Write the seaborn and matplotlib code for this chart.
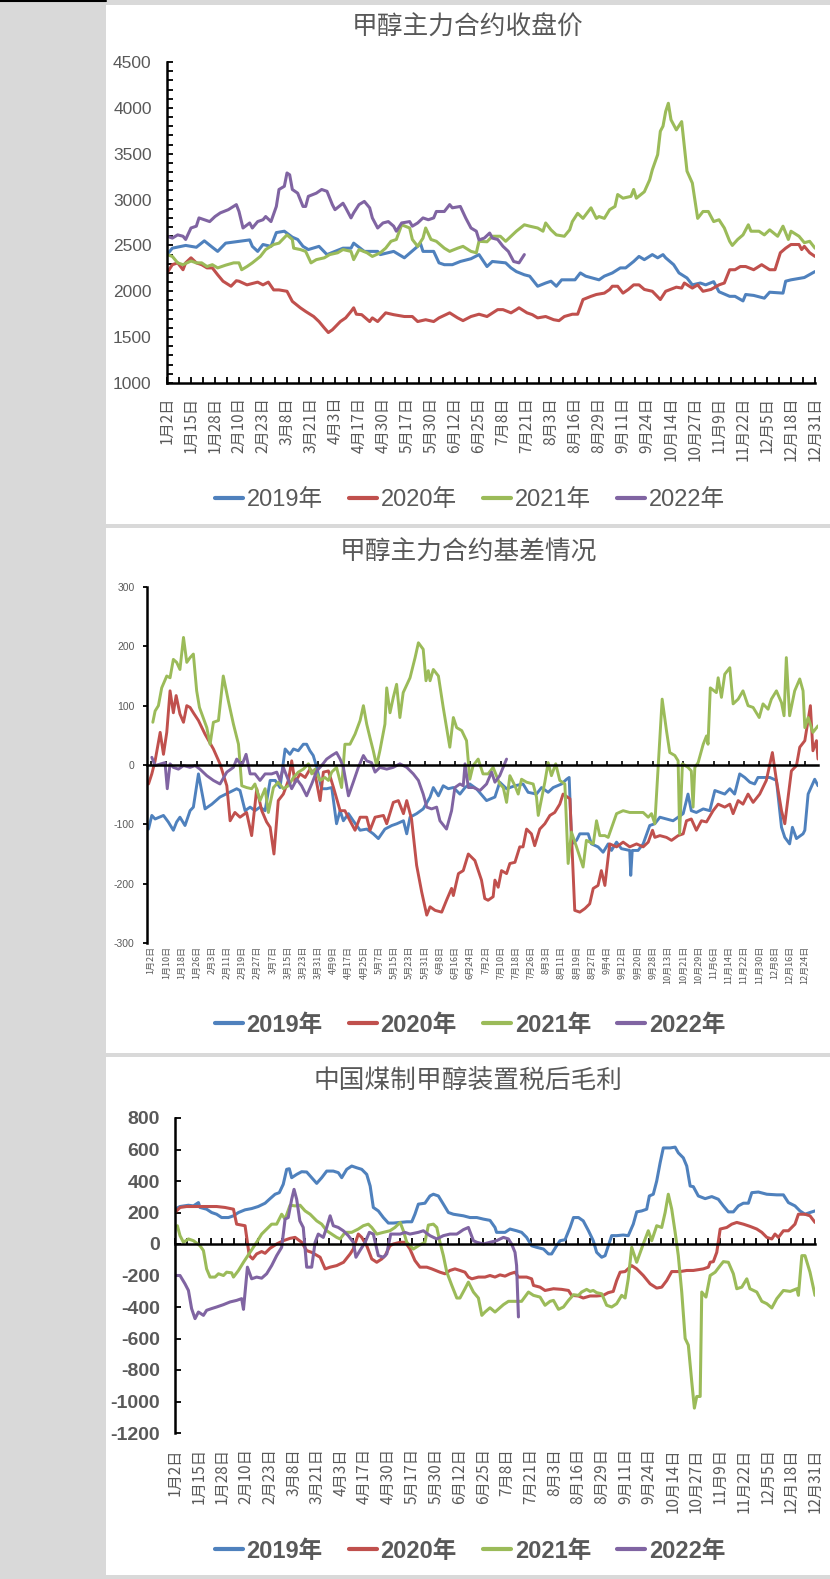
import matplotlib
matplotlib.use('Agg')
import matplotlib.pyplot as plt
import seaborn as sns
from matplotlib.patches import Rectangle
from matplotlib.lines import Line2D
from matplotlib.ticker import MultipleLocator, FixedLocator
from matplotlib.font_manager import FontProperties

# ---------------- data ----------------
SERIES = ['2019年', '2020年', '2021年', '2022年']
COLORS = ['#4F81BD', '#C0504D', '#9BBB59', '#8064A2']

TITLE1 = '甲醇主力合约收盘价'
TITLE2 = '甲醇主力合约基差情况'
TITLE3 = '中国煤制甲醇装置税后毛利'

XLAB_A = ['1月2日', '1月15日', '1月28日', '2月10日', '2月23日', '3月8日', '3月21日', '4月3日',
          '4月17日', '4月30日', '5月17日', '5月30日', '6月12日', '6月25日', '7月8日', '7月21日',
          '8月3日', '8月16日', '8月29日', '9月11日', '9月24日', '10月14日', '10月27日', '11月9日',
          '11月22日', '12月5日', '12月18日', '12月31日']
XLAB_B = ['1月2日', '1月10日', '1月18日', '1月26日', '2月3日', '2月11日', '2月19日', '2月27日',
          '3月7日', '3月15日', '3月23日', '3月31日', '4月9日', '4月17日', '4月25日', '5月7日',
          '5月15日', '5月23日', '5月31日', '6月8日', '6月16日', '6月24日', '7月2日', '7月10日',
          '7月18日', '7月26日', '8月3日', '8月11日', '8月19日', '8月27日', '9月4日', '9月12日',
          '9月20日', '9月28日', '10月13日', '10月21日', '10月29日', '11月6日', '11月14日',
          '11月22日', '11月30日', '12月8日', '12月16日', '12月24日']

# (trading-day index, value)
P1_2019 = [(0,2400),(2,2470),(7,2500),(11,2480),(14,2550),(17,2480),(19,2435),(22,2525),(31,2560),(32,2490),(34,2435),(36,2510),(39,2490),(41,2640),(44,2655),(47,2590),(49,2565),(51,2490),(53,2455),(57,2490),(60,2400),(66,2470),(69,2470),(70,2525),(74,2435),(79,2435),(80,2400),(85,2435),(89,2365),(94,2490),(95,2525),(96,2435),(100,2435),(102,2310),(104,2290),(107,2290),(110,2325),(114,2355),(117,2400),(120,2270),(122,2325),(127,2310),(129,2255),(131,2215),(134,2180),(136,2165),(139,2055),(142,2090),(144,2110),(146,2055),(148,2125),(153,2125),(155,2200),(157,2165),(162,2125),(164,2165),(167,2200),(170,2255),(172,2255),(175,2325),(177,2380),(179,2345),(182,2400),(184,2365),(186,2400),(187,2365),(190,2290),(192,2200),(195,2145),(197,2070),(200,2090),(202,2070),(205,2105),(207,1995),(211,1945),(213,1945),(216,1895),(217,1965),(220,1955),(224,1925),(226,1990),(231,1980),(232,2110),(234,2125),(239,2150),(243,2215)]
P1_2020 = [(0,2200),(2,2290),(4,2310),(6,2235),(7,2310),(9,2365),(11,2310),(13,2290),(15,2255),(17,2255),(19,2180),(21,2110),(24,2055),(26,2115),(27,2110),(30,2070),(34,2100),(36,2070),(38,2100),(40,2015),(42,2015),(45,2000),(47,1890),(50,1820),(52,1780),(55,1725),(57,1670),(59,1600),(60.5,1550),(62,1580),(65,1670),(67,1710),(69,1780),(70,1820),(71,1750),(73,1745),(76,1670),(77,1710),(79,1670),(82,1765),(85,1745),(89,1725),(92,1725),(94,1670),(97,1690),(100,1670),(102,1710),(106,1765),(109,1710),(111,1680),(114,1725),(117,1750),(120,1725),(124,1800),(126,1800),(129,1765),(131,1800),(132,1820),(135,1765),(137,1745),(139,1710),(142,1725),(145,1690),(147,1680),(149,1725),(152,1750),(154,1750),(156,1910),(159,1945),(161,1965),(164,1980),(166,2020),(167,2055),(169,2055),(171,1980),(173,2020),(175,2070),(177,2070),(179,2020),(182,2000),(185,1910),(187,2000),(191,2045),(193,2035),(194,2090),(197,2035),(199,2070),(201,2000),(204,2020),(207,2070),(209,2090),(211,2235),(213,2235),(215,2270),(217,2270),(220,2235),(223,2290),(226,2235),(228,2235),(230,2420),(232,2470),(234,2510),(237,2510),(238,2455),(239,2490),(241,2420),(243,2380)]
P1_2021 = [(0,2400),(2,2380),(4,2310),(6,2290),(9,2330),(11,2310),(13,2310),(15,2270),(17,2290),(19,2255),(22,2285),(25,2310),(27,2310),(28,2235),(30,2270),(32,2310),(35,2380),(37,2455),(40,2510),(42,2525),(45,2615),(47,2565),(47.5,2470),(50,2455),(52,2435),(54,2310),(56,2345),(59,2365),(61,2400),(64,2420),(66,2455),(69,2435),(70,2345),(72,2455),(75,2420),(77,2380),(80,2420),(82,2470),(84,2545),(86,2565),(88,2725),(91,2690),(92,2565),(94,2490),(96,2580),(97,2690),(99,2565),(101,2545),(104,2470),(106,2435),(109,2470),(111,2490),(114,2435),(116,2420),(117,2545),(120,2540),(122,2600),(125,2600),(127,2545),(129,2600),(131,2655),(134,2725),(136,2710),(139,2690),(141,2655),(142,2745),(144,2670),(146,2615),(149,2600),(151,2670),(152,2760),(154,2850),(156,2795),(159,2910),(161,2795),(162,2815),(164,2795),(166,2890),(168,2925),(169,3055),(171,3015),(174,3035),(175,3110),(176,3015),(179,3085),(181,3215),(182,3325),(184,3490),(185,3745),(186,3800),(187,3960),(188,4050),(189,3870),(191,3760),(193,3850),(195,3310),(197,3180),(199,2795),(201,2870),(203,2870),(205,2760),(207,2780),(209,2690),(211,2545),(212,2500),(214,2565),(216,2615),(218,2725),(219,2655),(222,2655),(224,2615),(226,2670),(229,2600),(231,2710),(233,2565),(234,2655),(237,2600),(239,2530),(241,2545),(243,2470)]
P1_2022 = [(0,2600),(2,2580),(4,2615),(6,2600),(7,2565),(9,2690),(11,2710),(12,2800),(14,2780),(16,2760),(18,2815),(20,2855),(23,2890),(26,2945),(27,2870),(28.5,2690),(31,2745),(32,2690),(34,2760),(36,2780),(37,2815),(39,2760),(41,2925),(42,3110),(44,3145),(45,3290),(46,3270),(47,3110),(49,3070),(51,2925),(52,2925),(53,3035),(56,3070),(58,3110),(60,3090),(62,2945),(63,2890),(66,2960),(67,2910),(69,2800),(70,2855),(72,2945),(74,2980),(76,2910),(77,2800),(79,2690),(81,2745),(83,2760),(85,2710),(86,2655),(88,2745),(91,2760),(92,2710),(94,2745),(96,2800),(98,2780),(100,2800),(101,2870),(104,2870),(106,2945),(107,2910),(110,2925),(112,2800),(114,2690),(116,2655),(117,2560),(119,2580),(121,2635),(122,2580),(124,2565),(126,2490),(128,2435),(130,2325),(132,2310),(134,2400)]

P2_2019 = [(-1,-108),(0.3,-85),(1.6,-91),(4.9,-85),(6.8,-96),(8.8,-110),(10.1,-96),(11.4,-88),(13.4,-102),(15.4,-77),(16.7,-71),(18.7,-15),(21.3,-74),(24,-66),(27.2,-54),(33.8,-40),(35.1,-43),(37.1,-77),(39.1,-71),(41,-77),(43,-71),(45,-77),(47,-26),(49,-26),(50.9,-38),(52.9,27),(54.8,18),(56.2,27),(58.1,24),(60.1,35),(61.4,35),(62.7,24),(64,16),(65.4,-4),(67.3,-40),(69.3,-40),(71.3,-38),(73.2,-99),(74.6,-77),(75.9,-94),(77.9,-82),(79.8,-94),(82.5,-110),(85.1,-108),(87.7,-116),(89.7,-124),(92.3,-108),(95,-102),(97,-99),(99.6,-94),(100.9,-116),(102.2,-88),(104.8,-82),(107.4,-74),(110.1,-54),(111.4,-38),(113.4,-52),(115.3,-35),(117.3,-40),(119.3,-38),(121.9,-49),(123.9,-38),(125.8,-32),(128.4,-40),(132.4,-60),(135.7,-54),(137.6,-29),(140.3,-40),(143.6,-35),(146.8,-32),(148.8,-46),(152.1,-49),(154.1,-38),(156.7,-46),(158.7,-38),(162,-32),(164,-24),(165,-21),(166,-133),(167.9,-127),(169.2,-116),(172.5,-116),(173.8,-133),(176.4,-138),(178.4,-147),(180.4,-133),(181.7,-144),(183.7,-130),(185.6,-141),(188.9,-144),(189.3,-186),(189.9,-144),(192.2,-144),(194.2,-133),(196.8,-102),(198.8,-99),(200.8,-88),(203.4,-91),(206,-94),(208,-88),(210,-82),(211.9,-49),(213.2,-77),(215.2,-80),(217.9,-74),(220.5,-77),(222.5,-43),(224.4,-46),(226.4,-49),(228.4,-40),(230.3,-49),(232.3,-15),(234.3,-21),(236.3,-29),(238.2,-32),(239.5,-21),(241.5,-21),(244.2,-21),(246.8,-26),(248.8,-105),(250.1,-122),(252,-133),(253.1,-105),(254.7,-124),(257.3,-116),(258,-110),(259.3,-49),(261.9,-24),(263.2,-35)]
P2_2020 = [(-1,-32),(0.3,-15),(1.6,7),(3.6,55),(4.9,18),(6.2,55),(7.5,125),(8.8,88),(9.9,117),(11.4,86),(12.8,72),(14.1,100),(15.4,97),(16.7,88),(18.7,75),(21.3,52),(24.6,27),(27.2,2),(29.9,-35),(31.2,-94),(33.1,-80),(35.1,-88),(37.7,-80),(39.7,-119),(41.7,-40),(43.7,-77),(45.6,-96),(47,-105),(48.5,-150),(50.2,-60),(52.2,-49),(54.2,-26),(55.5,7),(56.8,-29),(58.8,-15),(60.8,-21),(62.7,-7),(64.7,-15),(66.7,-60),(68,-12),(70,-10),(72,-38),(74.6,-77),(76.5,-77),(78.5,-94),(80.5,-110),(82.5,-88),(85.1,-88),(86.4,-110),(88.4,-88),(91.7,-85),(93,-99),(95.6,-63),(97.6,-60),(99.6,-82),(100.9,-60),(102.8,-91),(104.8,-169),(106.8,-214),(108.8,-253),(110.1,-239),(112.1,-245),(114.7,-248),(116.6,-228),(118.6,-208),(119.3,-220),(121.3,-183),(123.2,-178),(125.2,-150),(127.8,-161),(130.4,-194),(131.7,-225),(133,-228),(135,-222),(135.7,-194),(137,-206),(138.3,-178),(140.3,-183),(141.6,-166),(143.6,-164),(145.5,-138),(146.8,-138),(148.2,-108),(150.1,-116),(151.4,-136),(153.4,-108),(155.4,-99),(157.4,-85),(159.3,-80),(161.3,-66),(162.6,-49),(165.3,-57),(165.9,-116),(167.2,-245),(169.2,-248),(171.2,-242),(173.1,-234),(174.5,-208),(176.4,-203),(177.7,-178),(179.1,-203),(181,-133),(183.7,-138),(186.3,-130),(188.9,-138),(191.6,-133),(194.2,-138),(196.2,-130),(197.9,-110),(198.8,-122),(200.8,-119),(203.4,-122),(205.4,-127),(208,-119),(210,-116),(211.3,-94),(213.2,-91),(215.2,-110),(217.2,-94),(219.2,-96),(221.8,-77),(223.8,-66),(226.4,-71),(228.4,-66),(229.7,-82),(231.7,-60),(233.6,-66),(235.6,-49),(237.6,-63),(240.2,-49),(242.8,-26),(245.2,21),(246.8,-26),(248.8,-77),(250.1,-99),(251.4,-54),(252.7,-10),(254.7,-1),(256,30),(258,41),(260.2,100),(261.2,24),(262.6,41),(263.2,10)]
P2_2021 = [(0.7,72),(1.6,91),(2.9,100),(4.2,130),(6.2,150),(7.5,147),(8.8,178),(10.1,173),(11.4,161),(12.8,215),(14.1,173),(15.4,181),(16.7,187),(18,125),(19.1,97),(22,63),(23.3,35),(24.6,72),(26.6,75),(28.5,150),(30.5,108),(32.5,69),(34.5,35),(35.8,-35),(37.7,-38),(39.7,-40),(41,-32),(43,-60),(45,-40),(46.3,-80),(48.3,-38),(50.2,-29),(52.2,-40),(54.2,-35),(56.2,-21),(58.1,-12),(60.1,-7),(62.1,2),(63.4,-15),(64.7,-7),(66.7,-26),(68.6,-21),(70,-26),(71.3,-12),(73.2,-4),(75.2,-38),(76.5,35),(78.5,35),(80.5,52),(82.5,75),(83.8,100),(85.1,69),(86.4,46),(87.7,24),(89,-1),(90.3,24),(92.3,69),(93,130),(94.3,88),(95.6,114),(96.9,136),(98.2,80),(99.5,122),(102.2,147),(104.2,181),(105.5,206),(107.4,195),(108.5,142),(109.4,159),(110.1,142),(111.4,161),(113.4,150),(115.3,97),(117.9,30),(119.3,80),(120.6,63),(122.6,58),(124.5,41),(125.8,-24),(127.1,-1),(129.1,10),(131,-15),(133,-15),(135,-4),(137.6,-32),(139,-38),(140.3,-63),(141.6,-18),(143.6,-35),(144.9,-49),(146.2,-24),(148.2,-29),(150.8,-32),(152.1,-54),(152.8,-85),(154.1,-57),(155.4,-29),(156.7,4),(158,-18),(159.7,2),(161.3,-26),(163.3,-32),(164.6,-166),(165.9,-113),(167.9,-138),(170.5,-172),(171.8,-127),(174.5,-133),(175.8,-94),(177.1,-119),(179.1,-119),(180.4,-122),(183.7,-82),(186.3,-77),(188.9,-80),(191.6,-80),(194.2,-80),(196.2,-88),(197.5,-82),(198.8,-99),(200.1,-4),(201.7,111),(203.4,58),(204.7,21),(206.7,16),(208,7),(208.6,-116),(209.7,2),(211.9,-4),(213.2,-10),(213.9,-71),(214.6,-4),(215.9,4),(217.9,35),(219.2,49),(219.8,35),(220.7,130),(223.1,122),(223.8,147),(225.1,114),(226.4,153),(228.4,164),(229.7,103),(231.7,111),(233.6,125),(235.6,100),(237.6,97),(240,80),(241.5,103),(243.5,94),(244.8,111),(246.8,125),(248.8,105),(249.8,83),(250.7,181),(252,83),(254,125),(256,145),(257.3,125),(258,63),(259.3,80),(261.2,55),(263.2,66)]
P2_2022 = [(0.3,13),(1.6,-1),(5.5,4),(6.4,-40),(7.5,2),(8.8,-4),(10.8,-7),(12.8,-1),(15.4,-4),(17.4,-1),(19.3,-7),(22,-18),(24.6,-26),(27.2,-32),(29.9,-12),(32.5,-4),(33.8,10),(35.8,-1),(37.5,18),(39.1,-15),(41,-15),(43,-26),(45,-15),(47.6,-15),(49.6,-12),(50.9,-26),(52.2,-4),(55.5,-40),(57.5,-24),(59.4,-35),(61.4,-52),(63.4,-32),(65.4,-10),(67.3,-1),(69.3,10),(71.3,16),(73.2,21),(74.6,10),(75.9,-4),(77.9,-52),(79.8,-29),(81.8,-4),(83.8,16),(85.1,7),(87,4),(88.4,-12),(90.3,-4),(93,-7),(95.6,-4),(98.2,2),(100.9,-4),(103.5,-15),(105.5,-26),(107.4,-49),(108.8,-71),(110.7,-74),(112.7,-71),(114,-94),(116.6,-108),(118.6,-77),(119.9,-38),(121.9,-32),(123.2,-35),(123.9,2),(125.2,-38),(127.2,-38),(129.8,-43),(132.4,-32),(134.4,-12),(135.7,-29),(137.6,-18),(140.3,10)]

P3_2019 = [(0,221),(1.9,238),(5.1,246),(7,242),(8.9,263),(9.5,232),(12,221),(13.9,200),(15.8,189),(17.7,168),(20.3,168),(22.2,179),(24.1,200),(26.6,217),(29.1,225),(31.6,238),(34.2,259),(36.1,288),(38,316),(39.6,326),(41.1,379),(42.4,474),(43.4,478),(44.3,421),(46.2,442),(48.1,459),(50,457),(51.9,421),(53.8,385),(55.7,421),(57.6,463),(60.1,463),(62,453),(63.3,421),(65.2,474),(67.1,495),(69,484),(70.9,474),(72.8,442),(74.1,368),(75.3,232),(77.2,210),(79.1,168),(81,133),(82.9,133),(85.5,137),(88,141),(89.9,141),(91.1,189),(92.4,253),(94.9,259),(96.8,305),(98.1,316),(100,305),(101.9,253),(103.8,200),(105.7,189),(109.5,179),(112,168),(114.6,168),(117.1,158),(119.6,150),(121.5,105),(122.1,74),(125.3,74),(127.2,95),(129.7,84),(131.6,74),(133.5,42),(135.4,-11),(137.3,-21),(139.9,-32),(141.8,-63),(143,-63),(144.9,-11),(146.2,21),(148.1,27),(150,105),(151.3,168),(153.2,168),(155,147),(157,84),(158.8,21),(160.1,-53),(162,-84),(163.3,-74),(165.8,53),(167.7,53),(170.2,57),(172.1,53),(174,126),(175.3,204),(177.2,210),(179.1,221),(180.1,305),(181.6,316),(182.9,400),(184.2,516),(185.4,610),(188,610),(189.9,615),(191.1,579),(193,547),(194.3,495),(195.6,368),(196.8,364),(198.7,305),(201.3,288),(203.8,301),(206.3,284),(208.2,242),(210.1,204),(212,204),(213.9,242),(215.8,259),(217.7,259),(219,326),(221.5,330),(224.7,316),(228.5,312),(231,312),(232.9,263),(235.4,242),(237.3,210),(239.2,189),(241.1,200),(243,210)]
P3_2020 = [(0,200),(1.9,232),(4.4,238),(12,238),(15.8,238),(19,232),(22.2,221),(23.4,126),(25.3,120),(26.6,116),(28.2,-74),(29.5,-95),(31,-63),(32.9,-48),(34.2,-59),(36.1,-27),(38.6,0),(41.1,21),(43.7,36),(45.6,42),(48.1,11),(50,-42),(51.9,-53),(55.1,-84),(57,-158),(58.9,-147),(61.4,-137),(64,-116),(66.5,-63),(67.7,-32),(69.6,63),(70.9,42),(72.8,-11),(74.7,-95),(76.6,-116),(78.5,-95),(79.8,-74),(81.6,-11),(82.9,0),(85.5,11),(87.5,11),(89.2,-32),(91.1,-105),(93,-147),(95.6,-147),(97.5,-158),(100.6,-179),(102.5,-189),(104.4,-168),(106.3,-158),(108.2,-168),(110.1,-179),(111.4,-210),(112.7,-221),(115.2,-210),(117.7,-210),(119.6,-200),(121.5,-210),(123.4,-196),(125.3,-204),(127.2,-189),(129.1,-179),(130.4,-210),(133.5,-210),(135.4,-221),(136.1,-263),(138.6,-274),(140.5,-295),(143.7,-284),(146.8,-288),(149.4,-295),(150.6,-326),(153.2,-330),(155,-343),(157.6,-330),(160.1,-330),(162.6,-326),(164.5,-309),(166.4,-301),(167.7,-232),(169,-179),(170.9,-175),(173.4,-137),(175.3,-158),(177.8,-200),(180.4,-253),(182.9,-280),(184.8,-274),(186.7,-232),(188.6,-175),(191.8,-175),(194.3,-168),(196.8,-168),(200.6,-158),(202.5,-147),(203.2,-116),(204.4,-112),(205.7,-53),(207,95),(209.5,105),(211.4,126),(213.3,137),(215.8,126),(218.3,112),(220.9,95),(222.8,74),(224.7,42),(226.6,32),(227.8,63),(229.1,42),(231,84),(232.9,84),(235.4,126),(236.7,189),(239.2,189),(241.1,179),(243,137)]
P3_2021 = [(0.9,116),(1.9,53),(3.2,11),(5.1,32),(7,21),(9.5,-11),(10.8,-42),(12,-158),(13.3,-210),(15.2,-210),(16.5,-189),(18.4,-200),(19.6,-179),(21.5,-183),(22.2,-210),(24.1,-168),(26,-116),(28.5,-53),(31,11),(32.9,63),(35.4,105),(36.7,126),(38.6,126),(40.5,189),(41.8,158),(43.7,246),(45.6,242),(47.5,246),(49.4,210),(51.3,189),(53.8,147),(55.7,126),(57.6,84),(59.5,63),(61.4,42),(62.7,32),(64.6,74),(67.1,74),(69.6,95),(71.5,116),(73.4,126),(74.7,105),(76.6,63),(79.1,74),(81.6,84),(83.5,105),(85.5,137),(86.7,84),(88,11),(90.5,-32),(92.4,-11),(94.9,11),(96.2,120),(98.1,126),(99.4,105),(100.6,11),(101.9,-74),(103.2,-179),(105.1,-263),(107,-343),(108.2,-343),(110.1,-284),(111.4,-242),(113.3,-305),(115.2,-343),(116.5,-453),(117.7,-432),(119.6,-405),(121.5,-432),(124.7,-385),(126.6,-364),(128.5,-364),(131.6,-364),(134.2,-305),(136.1,-326),(138.6,-337),(140.5,-389),(142.4,-364),(143.7,-358),(145.6,-415),(147.5,-400),(149.4,-358),(151.3,-322),(153.2,-326),(154.4,-305),(156.3,-288),(157.6,-301),(158.8,-295),(160.1,-309),(162,-316),(163.9,-389),(165.8,-400),(167.7,-379),(169.6,-326),(170.9,-343),(172.1,-221),(173.4,-21),(175.3,-116),(177.8,0),(179.7,84),(181,21),(182.9,116),(184.8,105),(186.1,200),(187.3,316),(188.6,221),(189.9,74),(191.1,-74),(192.4,-305),(193.7,-600),(194.9,-642),(196.2,-874),(197.2,-1042),(198.1,-968),(199.4,-968),(200,-305),(201.6,-337),(203.2,-200),(205.1,-179),(207,-137),(208.2,-112),(210.1,-116),(212,-189),(213.3,-284),(215.2,-274),(217.1,-221),(218.3,-284),(220.9,-305),(222.8,-364),(224.7,-379),(226.6,-406),(228.5,-347),(231,-295),(233.6,-301),(236.1,-284),(236.7,-326),(238,-74),(239.2,-74),(241.1,-179),(243,-326)]
P3_2022 = [(0,-200),(1.9,-200),(3.8,-253),(5.1,-295),(6.3,-410),(7.6,-474),(8.9,-432),(10.8,-453),(12,-421),(13.9,-410),(15.8,-400),(18.4,-385),(20.9,-368),(23.4,-358),(25.3,-347),(26,-415),(27.5,-147),(29.1,-221),(31,-210),(32.9,-217),(34.8,-189),(36.7,-137),(38.6,-74),(40.5,-21),(41.8,158),(43,168),(44.3,284),(45.2,347),(46.2,284),(47.4,147),(48.7,105),(50,-147),(51.9,-147),(53.2,11),(54.4,63),(56.3,42),(57.6,105),(58.9,179),(60.1,116),(62,105),(63.9,84),(65.8,53),(67.7,11),(68.7,-84),(70.2,-42),(72.2,11),(73.8,74),(75.3,63),(77.2,-74),(79.1,-84),(80.4,-63),(81.9,63),(85.5,63),(87.3,74),(89.2,63),(92.4,74),(94.3,84),(96.8,53),(99.4,32),(101.9,53),(104.4,63),(107,63),(109.5,91),(111.4,105),(113.3,21),(114.6,11),(117.1,0),(119.6,11),(122.1,21),(124.7,42),(126.6,32),(127.8,0),(129.1,-53),(129.7,-137),(130.4,-463)]

# ---------------- style ----------------
sns.set_theme(style='white')
CJK = 'Noto Sans CJK SC'
NUM = 'Liberation Sans'
plt.rcParams['font.family'] = [NUM, CJK, 'DejaVu Sans']
plt.rcParams['axes.unicode_minus'] = False
GRAY = '#595959'

W, H = 830, 1579
fig = plt.figure(figsize=(W / 100, H / 100), dpi=100)
fig.patch.set_facecolor('#d9d9d9')


def box(x0, y0, x1, y1):
    return [x0 / W, 1 - y1 / H, (x1 - x0) / W, (y1 - y0) / H]


for (x0, y0, x1, y1) in [(106, 5, 830, 524), (106, 528, 830, 1053), (106, 1057, 830, 1575)]:
    fig.add_artist(Rectangle((x0 / W, 1 - y1 / H), (x1 - x0) / W, (y1 - y0) / H,
                             transform=fig.transFigure, facecolor='white',
                             edgecolor='none', zorder=-10))
fig.add_artist(Line2D([0, 106 / W], [1 - 1 / H, 1 - 1 / H], transform=fig.transFigure,
                      color='black', lw=1.5))


def draw(ax, sets, lw):
    for name, col, pts in zip(SERIES, COLORS, sets):
        xs = [p[0] for p in pts]
        ys = [p[1] for p in pts]
        sns.lineplot(x=xs, y=ys, ax=ax, color=col, linewidth=lw,
                     estimator=None, sort=False, legend=False)


def legend(ypix, bold):
    handles = [Line2D([], [], color=c, lw=3) for c in COLORS]
    prop = FontProperties(family=[NUM, CJK], size=17, weight='bold' if bold else 'normal')
    leg = fig.legend(handles, SERIES, loc='center', bbox_to_anchor=(470 / W, 1 - ypix / H),
                     bbox_transform=fig.transFigure, ncol=4, frameon=False, prop=prop,
                     handlelength=1.2, handletextpad=0.15, columnspacing=1.1, borderaxespad=0)
    for t in leg.get_texts():
        t.set_color(GRAY)


def title(ypix, text):
    fig.text(468 / W, 1 - ypix / H, text, ha='center', va='center', fontsize=18.5,
             color=GRAY, family=[CJK], fontweight='light')


def style_common(ax):
    ax.set_facecolor('white')
    for s in ['top', 'right']:
        ax.spines[s].set_visible(False)
    ax.spines['left'].set_color('black')
    ax.spines['left'].set_linewidth(1.8)


# ---------------- panel 1 ----------------
ax1 = fig.add_axes(box(167, 62, 815, 383))
draw(ax1, [P1_2019, P1_2020, P1_2021, P1_2022], 2.2)
style_common(ax1)
ax1.spines['bottom'].set_color('black')
ax1.spines['bottom'].set_linewidth(1.8)
ax1.set_xlim(0, 243)
ax1.set_ylim(1000, 4500)
ax1.set_yticks(range(1000, 4501, 500))
ax1.yaxis.set_minor_locator(MultipleLocator(100))
ax1.tick_params(axis='y', which='both', direction='in', left=True, length=4, width=1.3,
                color='black', labelsize=12.5, labelcolor=GRAY, pad=11)
posA = [9 * i for i in range(len(XLAB_A))]
ax1.set_xticks(posA)
ax1.set_xticklabels(XLAB_A, rotation=90, family=[CJK], fontsize=11, color=GRAY)
ax1.xaxis.set_minor_locator(FixedLocator([p + 4.5 for p in posA[:-1]]))
ax1.tick_params(axis='x', which='both', direction='in', bottom=True, length=4, width=1.3,
                color='black', pad=10)
ax1.set_xlabel('')
ax1.set_ylabel('')
title(28, TITLE1)
legend(500, False)

# ---------------- panel 2 ----------------
ax2 = fig.add_axes(box(147, 587, 818, 943))
draw(ax2, [P2_2019, P2_2020, P2_2021, P2_2022], 2.1)
style_common(ax2)
ax2.set_xlim(-1.6, 263.2)
ax2.set_ylim(-300, 300)
ax2.set_yticks(range(-300, 301, 100))
ax2.tick_params(axis='y', direction='out', left=True, length=3, width=1.3, color='black',
                labelsize=7.5, labelcolor=GRAY, pad=6)
ax2.spines['bottom'].set_position(('data', 0))
ax2.spines['bottom'].set_color('black')
ax2.spines['bottom'].set_linewidth(1.8)
posB = [6 * i for i in range(len(XLAB_B))]
ax2.set_xticks(posB)
ax2.tick_params(axis='x', direction='in', bottom=True, length=3, width=1.2, color='black',
                labelbottom=False)
sec2 = ax2.secondary_xaxis('bottom')
sec2.set_xticks(posB)
sec2.set_xticklabels(XLAB_B, rotation=90, family=[CJK], fontsize=6.5, color=GRAY)
sec2.tick_params(axis='x', length=0, pad=2)
sec2.spines['bottom'].set_visible(False)
ax2.set_xlabel('')
ax2.set_ylabel('')
title(553, TITLE2)
legend(1025, True)

# ---------------- panel 3 ----------------
ax3 = fig.add_axes(box(175, 1118, 815, 1433))
draw(ax3, [P3_2019, P3_2020, P3_2021, P3_2022], 2.2)
style_common(ax3)
ax3.set_xlim(0, 243)
ax3.set_ylim(-1200, 800)
ax3.set_yticks(range(-1200, 801, 200))
ax3.tick_params(axis='y', direction='in', left=True, length=4, width=1.3, color='black',
                labelsize=14, labelcolor=GRAY, pad=11)
for t in ax3.get_yticklabels():
    t.set_fontweight('bold')
ax3.spines['bottom'].set_position(('data', 0))
ax3.spines['bottom'].set_color('black')
ax3.spines['bottom'].set_linewidth(1.8)
ax3.set_xticks(posA)
ax3.xaxis.set_minor_locator(FixedLocator([p + 4.5 for p in posA[:-1]]))
ax3.tick_params(axis='x', which='both', direction='in', bottom=True, length=4, width=1.3,
                color='black', labelbottom=False)
sec3 = ax3.secondary_xaxis('bottom')
sec3.set_xticks(posA)
sec3.set_xticklabels(XLAB_A, rotation=90, family=[CJK], fontsize=11, color=GRAY)
sec3.tick_params(axis='x', length=0, pad=11)
sec3.spines['bottom'].set_visible(False)
ax3.set_xlabel('')
ax3.set_ylabel('')
title(1081, TITLE3)
legend(1551, True)

fig.savefig('out.png', dpi=100, facecolor=fig.get_facecolor())
